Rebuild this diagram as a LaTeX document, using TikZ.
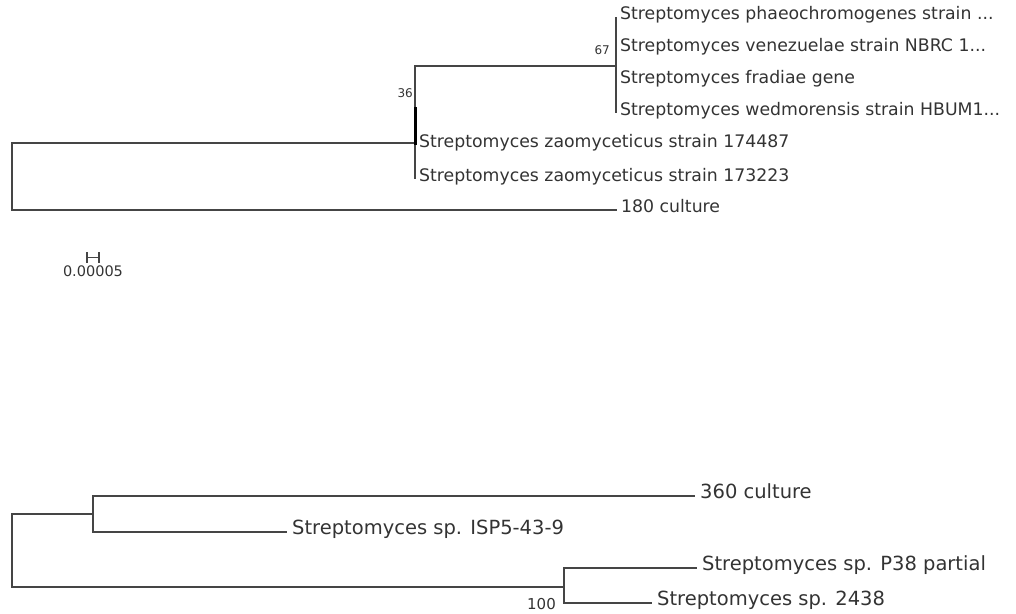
\documentclass[tikz,border=0pt]{standalone}
\usepackage{fontspec}
\setmainfont{DejaVu Sans}
\usetikzlibrary{positioning}

\begin{document}
\begin{tikzpicture}[x=1pt,y=-1pt]
\colorlet{branch color}{black!73}
\colorlet{label color}{black!80}
\tikzset{
  branch/.style={branch color,line width=1.8pt},
  short/.style={black,line width=3pt},
  leaf/.style={label color,anchor=west,inner sep=4pt,text height=0.72em,text depth=0.22em,font=\fontsize{17.3}{20}\selectfont},
  big leaf/.style={leaf,inner sep=5pt,font=\fontsize{19.5}{23}\selectfont},
  support/.style={label color,anchor=east,inner sep=1pt,font=\fontsize{12}{14}\selectfont}
}
\useasboundingbox (0,0) rectangle (1016,613);

%TOP TREE
\coordinate (ROOT1) at (12,176);
\coordinate (N36) at (415,143);
\coordinate (B36) at (415,107);
\coordinate (N67) at (616,66);
\node[leaf] (PHAEO) at (616,17) {Streptomyces phaeochromogenes strain ...};
\node[leaf] (VENEZ) at (616,49) {Streptomyces venezuelae strain NBRC 1...};
\node[leaf] (FRAD) at (616,81) {Streptomyces fradiae gene};
\node[leaf] (WEDM) at (616,113) {Streptomyces wedmorensis strain HBUM1...};
\node[leaf] (Z174487) at (415,145) {Streptomyces zaomyceticus strain 174487};
\node[leaf] (Z173223) at (415,179) {Streptomyces zaomyceticus strain 173223};
\node[leaf] (C180) at (617,210) {180 culture};

%SUPPORT
\node[support] (S67) at (611,50) {67};
\node[support] (S36) at (414,93) {36};

%PATHS
\draw[branch] (ROOT1) |- (N36);
\draw[branch] (ROOT1) |- (C180.west);
\draw[branch] (N36) |- (N67);
\draw[branch] (N36) -- (Z173223.west);
\draw[branch] (PHAEO.west) -- (WEDM.west);
\draw[short] (B36) -- (Z174487.west);

%SCALE
\draw[branch,line width=1.2pt] (87,252) -- (87,263) (87,257.5) -- (99,257.5) (99,252) -- (99,263);
\node[label color,font=\fontsize{14.5}{16}\selectfont] (SCALE) at (93,271) {0.00005};

%BOTTOM TREE
\coordinate (ROOT2) at (12,550);
\coordinate (NA) at (93,514);
\coordinate (NB) at (564,587);
\node[big leaf] (C360) at (695,496) {360 culture};
\node[big leaf] (ISP) at (287,532) {Streptomyces sp. ISP5-43-9};
\node[big leaf] (P38) at (697,568) {Streptomyces sp. P38 partial};
\node[big leaf] (S2438) at (652,603) {Streptomyces sp. 2438};
\node[support,font=\fontsize{15}{17}\selectfont] (S100) at (557,604) {100};

%PATHS
\draw[branch] (ROOT2) |- (NA);
\draw[branch] (ROOT2) |- (NB);
\draw[branch] (NA) |- (C360.west);
\draw[branch] (NA) |- (ISP.west);
\draw[branch] (NB) |- (P38.west);
\draw[branch] (NB) |- (S2438.west);

\end{tikzpicture}
\end{document}
